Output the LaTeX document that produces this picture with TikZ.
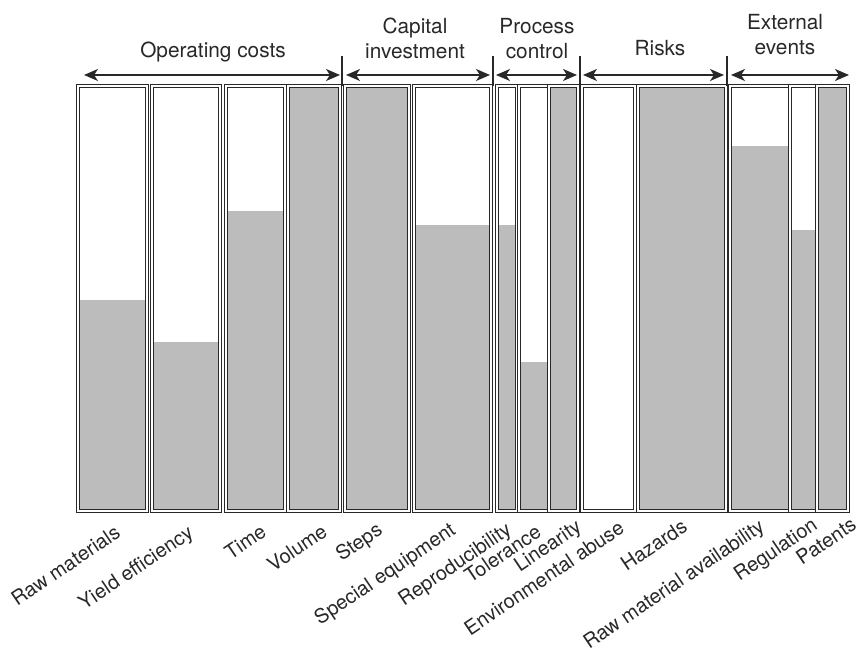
\documentclass[tikz,border=0pt]{standalone}
\usepackage{fontspec}
\setmainfont{TeX Gyre Heros}
\usetikzlibrary{arrows.meta}
\definecolor{barfill}{RGB}{188,188,188}
\definecolor{ink}{RGB}{40,40,40}

\begin{document}
\begin{tikzpicture}[x=0.5pt,y=0.5pt,
  bar/.style={draw=ink, double=white, double distance=0.7pt, line width=0.45pt},
  span/.style={ink, line width=0.8pt, {Stealth[length=7pt,width=6pt,inset=2pt]}-{Stealth[length=7pt,width=6pt,inset=2pt]}},
  head/.style={font=\fontsize{10.4}{12.5}\selectfont, text=ink, align=center},
  tag/.style={font=\fontsize{10}{12}\selectfont, text=ink, rotate=34, anchor=base east, inner sep=0pt}]
\useasboundingbox (0,0) rectangle (861,658);

% Bars (left/right/fill level)
\foreach \a/\b/\h in {78/147/358,152/220/316,226/285/447,288/340/572,345/409/572,414/491/433,497/517/433,519/549/296,549/578/572,582/635/147,638/726/572,730/790/512,790/817/428,817/848/572} {
    \fill[barfill] (\a,147) rectangle (\b,\h);
    \draw[bar] (\a,147) rectangle (\b,572);
}

% Group dividers and spans
\foreach \x in {342,493,580,727} {
    \draw[ink, line width=0.6pt] (\x,602) -- (\x,572);
}
\foreach \a/\b in {84/340,346/490,496/577,583/724,731/849} {
    \draw[span] (\a,583) -- (\b,583);
}

% Group headings
\node[head] (opcost) at (213,606) {Operating costs};
\node[head] (capinv) at (415,620) {Capital\\investment};
\node[head] (proc) at (537,619) {Process\\control};
\node[head] (risks) at (660,610) {Risks};
\node[head] (ext) at (785,623) {External\\events};

% Bar labels
\foreach \x/\y/\t [count=\i] in {122/122/Raw materials,195/122/Yield efficiency,268/123/Time,329/123/Volume,384/125/Steps,457/125/Special equipment,513/125/Reproducibility,543/123/Tolerance,583/128/Linearity,626/127/Environmental abuse,689/128/Hazards,766/128/Raw material availability,819/130/Regulation,858/130/Patents} {
    \node[tag] (lab\i) at (\x,\y) {\t};
}
\end{tikzpicture}
\end{document}
